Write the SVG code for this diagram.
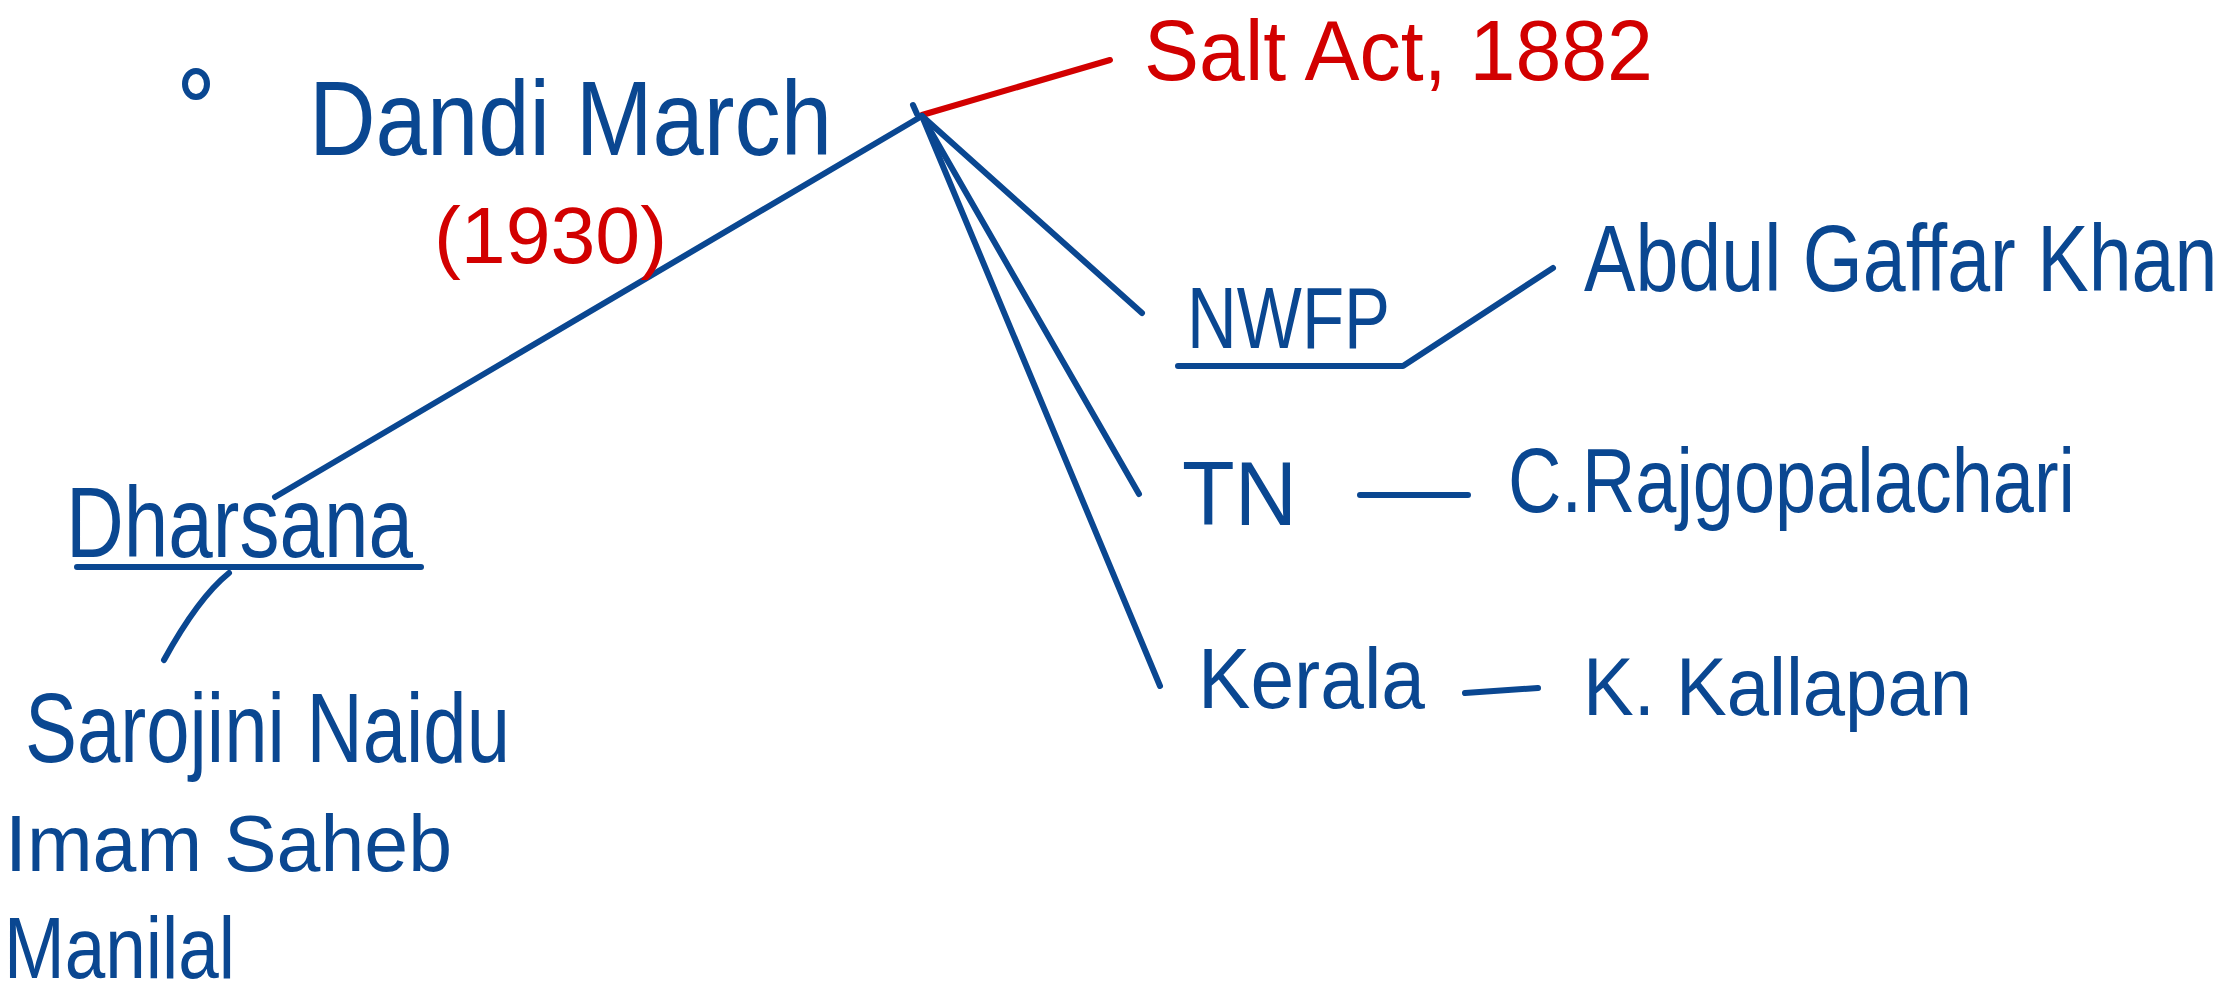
<svg xmlns="http://www.w3.org/2000/svg" width="2230" height="1000" viewBox="0 0 2230 1000">
<style>
  .b { fill: #0A4791; font-family: "Liberation Sans", Arial, sans-serif; }
  .r { fill: #D20000; font-family: "Liberation Sans", Arial, sans-serif; }
  .lb { stroke: #0A4791; stroke-width: 6; stroke-linecap: round; stroke-linejoin: round; fill: none; }
  .lr { stroke: #D20000; stroke-width: 6; stroke-linecap: round; fill: none; }
</style>
<rect width="2230" height="1000" fill="#FFFFFF"/>

<g id="connectors">
  <line class="lr" x1="922" y1="115" x2="1110" y2="60"/>
  <line class="lb" x1="913" y1="105" x2="917" y2="114"/>
  <line class="lb" x1="922" y1="116" x2="275" y2="497"/>
  <line class="lb" x1="922" y1="116" x2="1142" y2="313"/>
  <line class="lb" x1="922" y1="116" x2="1139" y2="494"/>
  <line class="lb" x1="922" y1="116" x2="1160" y2="686"/>
  <path class="lb" d="M229,573 Q198,598 164,660"/>
  <polyline class="lb" points="1178,366 1403,366 1553,268"/>
  <line class="lb" x1="1360" y1="495" x2="1468" y2="495"/>
  <line class="lb" x1="1465" y1="693" x2="1538" y2="688"/>
</g>

<g id="dandi-march">
  <ellipse class="lb" cx="196" cy="84" rx="11" ry="13"/>
  <text class="b" x="309" y="155" font-size="105" textLength="523" lengthAdjust="spacingAndGlyphs">Dandi March</text>
  <text class="r" x="434" y="263" font-size="80" textLength="233" lengthAdjust="spacingAndGlyphs">(1930)</text>
</g>

<g id="salt-act">
  <text class="r" x="1144" y="80" font-size="86" textLength="509" lengthAdjust="spacingAndGlyphs">Salt Act, 1882</text>
</g>

<g id="dharsana">
  <text class="b" x="66" y="557" font-size="100" textLength="347" lengthAdjust="spacingAndGlyphs">Dharsana</text>
  <line class="lb" x1="77" y1="567" x2="421" y2="567"/>
</g>

<g id="dharsana-people">
  <text class="b" x="25" y="762" font-size="98" textLength="485" lengthAdjust="spacingAndGlyphs">Sarojini Naidu</text>
  <text class="b" x="5" y="871" font-size="80" textLength="447" lengthAdjust="spacingAndGlyphs">Imam Saheb</text>
  <text class="b" x="4" y="978" font-size="88" textLength="231" lengthAdjust="spacingAndGlyphs">Manilal</text>
</g>

<g id="nwfp">
  <text class="b" x="1187" y="348" font-size="88" textLength="203" lengthAdjust="spacingAndGlyphs">NWFP</text>
</g>

<g id="abdul-gaffar-khan">
  <text class="b" transform="translate(1584,291) scale(0.81,1)" x="0" y="0" font-size="95" textLength="782" lengthAdjust="spacingAndGlyphs">Abdul Gaffar Khan</text>
</g>

<g id="tn">
  <text class="b" x="1182" y="525" font-size="90" textLength="115" lengthAdjust="spacingAndGlyphs">TN</text>
</g>

<g id="rajgopalachari">
  <text class="b" x="1508" y="512" font-size="90" textLength="567" lengthAdjust="spacingAndGlyphs">C.Rajgopalachari</text>
</g>

<g id="kerala">
  <text class="b" x="1198" y="708" font-size="85" textLength="227" lengthAdjust="spacingAndGlyphs">Kerala</text>
</g>

<g id="kallapan">
  <text class="b" x="1583" y="715" font-size="82" textLength="389" lengthAdjust="spacingAndGlyphs">K. Kallapan</text>
</g>
</svg>
